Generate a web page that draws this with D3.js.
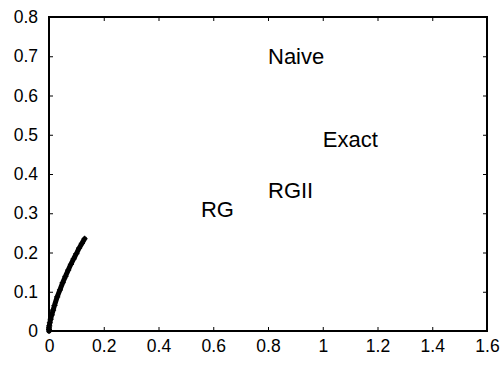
<!DOCTYPE html>
<html>
<head>
<meta charset="utf-8">
<script src="https://cdn.jsdelivr.net/npm/d3@7"></script>
<style>
  body { margin: 0; background: #fff; }
  text { font-family: Arial, "Liberation Sans", sans-serif; fill: #000; }
</style>
</head>
<body>
<script>
// curve points
const curveX = [0, 0, 0, 0.001, 0.003, 0.006, 0.010, 0.015, 0.020, 0.030, 0.040, 0.050, 0.060, 0.070, 0.080, 0.090, 0.100, 0.110, 0.120, 0.130]
const curveY = [0, 0.004, 0.008, 0.013, 0.021, 0.030, 0.041, 0.053, 0.065, 0.087, 0.105, 0.123, 0.139, 0.155, 0.170, 0.184, 0.197, 0.211, 0.223, 0.235]

const labelNames = ["Naive", "Exact", "RGII", "RG"]
const labelX = [0.8, 1.0, 0.8, 0.555]
const labelY = [0.7, 0.49, 0.36, 0.31]

const xTicks = [0, 0.2, 0.4, 0.6, 0.8, 1, 1.2, 1.4, 1.6]
const yTicks = [0, 0.1, 0.2, 0.3, 0.4, 0.5, 0.6, 0.7, 0.8]

const width = 504, height = 366
const margin = {top: 17, right: 17, bottom: 35, left: 49}

const svg = d3.select("body").append("svg")
    .attr("width", width)
    .attr("height", height)

const x = d3.scaleLinear().domain([0, 1.6]).range([margin.left, width - margin.right])
const y = d3.scaleLinear().domain([0, 0.8]).range([height - margin.bottom, margin.top])

const tickLen = 4

// ticks on all four sides, pointing in
const bottomAxis = svg.append("g")
    .attr("transform", `translate(0, ${y(0)})`)
    .call(d3.axisBottom(x).tickValues(xTicks).tickSizeInner(-tickLen).tickSizeOuter(0).tickPadding(9)
        .tickFormat(d3.format("")))
bottomAxis.select(".domain").remove()
bottomAxis.selectAll("text").style("font-size", "17.5px")

const topAxis = svg.append("g")
    .attr("transform", `translate(0, ${y(0.8)})`)
    .call(d3.axisTop(x).tickValues(xTicks).tickSizeInner(-tickLen).tickSizeOuter(0).tickFormat(""))
topAxis.select(".domain").remove()

const leftAxis = svg.append("g")
    .attr("transform", `translate(${x(0)}, 0)`)
    .call(d3.axisLeft(y).tickValues(yTicks).tickSizeInner(-tickLen).tickSizeOuter(0).tickPadding(11)
        .tickFormat(d3.format("")))
leftAxis.select(".domain").remove()
leftAxis.selectAll("text").style("font-size", "17.5px")

const rightAxis = svg.append("g")
    .attr("transform", `translate(${x(1.6)}, 0)`)
    .call(d3.axisRight(y).tickValues(yTicks).tickSizeInner(-tickLen).tickSizeOuter(0).tickFormat(""))
rightAxis.select(".domain").remove()

svg.selectAll(".tick line").attr("stroke", "#000").attr("stroke-width", 1)

// frame
svg.append("rect")
    .attr("x", x(0)).attr("y", y(0.8))
    .attr("width", x(1.6) - x(0)).attr("height", y(0) - y(0.8))
    .attr("fill", "none").attr("stroke", "#000").attr("stroke-width", 2)

// curve
const pts = curveX.map((d, i) => [d, curveY[i]])
svg.append("path")
    .datum(pts)
    .attr("fill", "none")
    .attr("stroke", "#000")
    .attr("stroke-width", 5)
    .attr("stroke-linecap", "round")
    .attr("d", d3.line().x(d => x(d[0])).y(d => y(d[1])).curve(d3.curveCatmullRom))

// point markers (+)
svg.append("g").selectAll("path")
    .data(pts)
    .enter()
    .append("path")
    .attr("transform", d => `translate(${x(d[0])}, ${y(d[1])})`)
    .attr("d", "M-3,0H3M0,-3V3")
    .attr("stroke", "#000")
    .attr("stroke-width", 1.2)

// labels
svg.append("g").selectAll("text")
    .data(labelNames)
    .enter()
    .append("text")
    .attr("x", (d, i) => x(labelX[i]))
    .attr("y", (d, i) => y(labelY[i]))
    .attr("dy", "0.36em")
    .style("font-size", "22px")
    .text(d => d)
</script>
</body>
</html>
